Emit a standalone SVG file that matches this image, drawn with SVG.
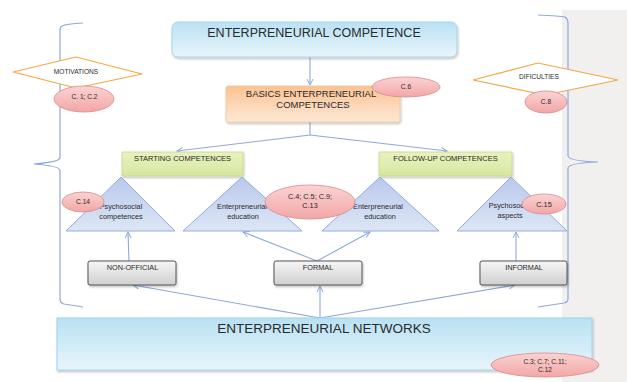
<svg xmlns="http://www.w3.org/2000/svg" width="627" height="382" viewBox="0 0 627 382">
<defs>
<linearGradient id="gBlue" x1="0" y1="0" x2="0" y2="1"><stop offset="0" stop-color="#b9e1f3"/><stop offset="1" stop-color="#e8f5fb"/></linearGradient>
<linearGradient id="gOrange" x1="0" y1="0" x2="0" y2="1"><stop offset="0" stop-color="#fbc392"/><stop offset="1" stop-color="#fde8d6"/></linearGradient>
<linearGradient id="gGreen" x1="0" y1="0" x2="0" y2="1"><stop offset="0" stop-color="#e9f2bf"/><stop offset="1" stop-color="#d6e7a0"/></linearGradient>
<linearGradient id="gTri" x1="0" y1="0" x2="0" y2="1"><stop offset="0" stop-color="#b9c9ec"/><stop offset="1" stop-color="#dde6f6"/></linearGradient>
<linearGradient id="gGray" x1="0" y1="0" x2="0" y2="1"><stop offset="0" stop-color="#f6f6f6"/><stop offset="1" stop-color="#cfcfcf"/></linearGradient>
<linearGradient id="gPink" x1="0" y1="0" x2="0" y2="1"><stop offset="0" stop-color="#fbd3d3"/><stop offset="1" stop-color="#f2a6a6"/></linearGradient>
<filter id="sh" x="-10%" y="-20%" width="120%" height="150%"><feDropShadow dx="0.8" dy="1.5" stdDeviation="1" flood-color="#000" flood-opacity="0.25"/></filter>
<marker id="arr" markerWidth="8" markerHeight="8" refX="7" refY="4" orient="auto" markerUnits="userSpaceOnUse"><polyline points="1,1 7,4 1,7" fill="none" stroke="#8eaadb" stroke-width="1"/></marker>
</defs>
<style>
text{font-family:"Liberation Sans",Arial,sans-serif;fill:#2a2a2a;text-anchor:middle}
.conn{fill:none;stroke:#8eaadb;stroke-width:1.1}
.brace{fill:none;stroke:#8ea9dc;stroke-width:1.2}
.ell{fill:url(#gPink);stroke:#d88a8a;stroke-width:0.8}
.tri{fill:url(#gTri);stroke:#8aa5d6;stroke-width:0.9}
.green{fill:url(#gGreen);stroke:#c6d98c;stroke-width:0.8}
.gray{fill:url(#gGray);stroke:#555;stroke-width:1}
.dia{fill:#fff;stroke:#f5a545;stroke-width:1.2}
.s7{font-size:7.3px}
.s65{font-size:6.6px}
</style>
<rect x="562" y="10" width="65" height="372" fill="#f1f0ef"/>
<g id="braces">
<path class="brace" d="M83,23 Q66,24 62,26 Q60,27 60,31 L60,158 Q59,162 34,164 Q59,166 60,170 L60,299 Q60,303 64,304 L83,307"/>
<path class="brace" d="M538,15 Q560,16 565,17 Q568,19 568,23 L568,156 Q569,161 598,162 Q569,163 568,168 L568,299 Q568,302 564,303 L538,307"/>
</g>
<g id="connectors">
<line class="conn" x1="310" y1="57" x2="310" y2="85" marker-end="url(#arr)"/>
<polyline class="conn" points="310,122 310,135 177,151" marker-end="url(#arr)"/>
<polyline class="conn" points="310,135 447,151" marker-end="url(#arr)"/>
<line class="conn" x1="129" y1="261" x2="128" y2="232" marker-end="url(#arr)"/>
<line class="conn" x1="317" y1="261" x2="243" y2="232" marker-end="url(#arr)"/>
<line class="conn" x1="317" y1="261" x2="370" y2="232" marker-end="url(#arr)"/>
<line class="conn" x1="516" y1="261" x2="516" y2="232" marker-end="url(#arr)"/>
<line class="conn" x1="320" y1="318" x2="133" y2="285" marker-end="url(#arr)"/>
<line class="conn" x1="320" y1="318" x2="320" y2="286" marker-end="url(#arr)"/>
<line class="conn" x1="320" y1="318" x2="515" y2="285" marker-end="url(#arr)"/>
</g>
<g id="ent-competence">
<rect x="172" y="22" width="285" height="35" rx="6" fill="url(#gBlue)" stroke="#a9d5ea" stroke-width="1" filter="url(#sh)"/>
<text x="314" y="37" style="font-size:12.5px">ENTERPRENEURIAL COMPETENCE</text>
</g>
<g id="basics">
<rect x="226" y="86" width="174" height="36" rx="2" fill="url(#gOrange)" stroke="#f4c49a" stroke-width="0.8" filter="url(#sh)"/>
<text x="311" y="97" style="font-size:9.5px">BASICS ENTERPRENEURIAL</text>
<text x="313" y="108" style="font-size:9.5px">COMPETENCES</text>
</g>
<g id="c6"><ellipse class="ell" cx="406" cy="87" rx="34" ry="10"/><text x="406" y="89" class="s65">C.6</text></g>
<g id="motivations">
<polygon class="dia" points="13,72 76,57 142,74 76,88"/>
<text x="76" y="74" class="s65">MOTIVATIONS</text>
</g>
<g id="c1c2"><ellipse class="ell" cx="84" cy="99" rx="30" ry="13"/><text x="84.5" y="99" class="s65">C. 1; C.2</text></g>
<g id="dificulties">
<polygon class="dia" points="473,80 538,63 618,80 545,95"/>
<text x="539" y="79" class="s65">DIFICULTIES</text>
</g>
<g id="c8"><ellipse class="ell" cx="546" cy="102" rx="21" ry="11"/><text x="546" y="104" class="s65">C.8</text></g>
<g id="starting">
<rect x="122" y="152" width="121" height="24" class="green" filter="url(#sh)"/>
<text x="182.5" y="161" style="font-size:7.5px">STARTING COMPETENCES</text>
</g>
<g id="followup">
<rect x="379" y="152" width="133" height="24" class="green" filter="url(#sh)"/>
<text x="445.5" y="161" style="font-size:7.5px">FOLLOW-UP COMPETENCES</text>
</g>
<g id="tri-psychosocial">
<polygon class="tri" points="121,177 175,231 66,231"/>
<text x="121" y="209" class="s7">Psychosocial</text>
<text x="121" y="218.5" class="s7">competences</text>
</g>
<g id="tri-edu1">
<polygon class="tri" points="242,177 302,231 183,231"/>
<text x="242" y="209" class="s7">Enterpreneurial</text>
<text x="243" y="218.5" class="s7">education</text>
</g>
<g id="tri-edu2">
<polygon class="tri" points="380,177 439,231 322,231"/>
<text x="378" y="209" class="s7">Enterpreneurial</text>
<text x="380" y="218.5" class="s7">education</text>
</g>
<g id="tri-aspects">
<polygon class="tri" points="511,177 567,231 457,231"/>
<text x="510" y="208" class="s7">Psychosocial</text>
<text x="510" y="217.5" class="s7">aspects</text>
</g>
<g id="c14"><ellipse class="ell" cx="83" cy="202" rx="21" ry="10"/><text x="83" y="204" class="s65">C.14</text></g>
<g id="c4"><ellipse class="ell" cx="310" cy="202" rx="45" ry="17"/><text x="310" y="199" class="s7">C.4; C.5; C.9;</text><text x="310" y="208" class="s7">C.13</text></g>
<g id="c15"><ellipse class="ell" cx="544" cy="204" rx="22" ry="10"/><text x="544" y="206.5" class="s7">C.15</text></g>
<g id="nonofficial">
<rect x="88" y="261" width="88" height="24" rx="2" class="gray" filter="url(#sh)"/>
<text x="132.5" y="270" class="s7">NON-OFFICIAL</text>
</g>
<g id="formal">
<rect x="274" y="261" width="88" height="24" rx="2" class="gray" filter="url(#sh)"/>
<text x="318" y="270" class="s7">FORMAL</text>
</g>
<g id="informal">
<rect x="480" y="261" width="87" height="24" rx="2" class="gray" filter="url(#sh)"/>
<text x="524" y="270" class="s7">INFORMAL</text>
</g>
<g id="networks">
<rect x="57" y="318" width="535" height="52" fill="url(#gBlue)" stroke="#9dd2ea" stroke-width="1" filter="url(#sh)"/>
<text x="324" y="333" style="font-size:13.5px">ENTERPRENEURIAL NETWORKS</text>
</g>
<g id="c3"><ellipse class="ell" cx="545" cy="365" rx="54" ry="12"/><text x="545" y="364" class="s65">C.3; C.7; C.11;</text><text x="545" y="372" class="s65">C.12</text></g>
</svg>
